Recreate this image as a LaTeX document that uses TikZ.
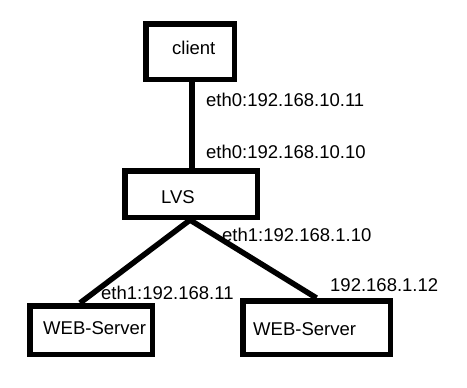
\documentclass[tikz,border=0pt]{standalone}
\usepackage{fontspec}
\setmainfont{Liberation Sans}
\usetikzlibrary{calc}
\begin{document}
\begin{tikzpicture}[x=1pt,y=-1pt,
  box/.style={draw=black,line width=5.5pt,rectangle,inner sep=0pt},
  wire/.style={draw=black,line width=5.5pt},
  lbl/.style={anchor=base west,inner sep=0pt,font=\fontsize{18.5}{20}\selectfont}]
\useasboundingbox[fill=white] (0,0) rectangle (467,388);
% boxes
\node[box,minimum width=88.5pt,minimum height=55.5pt] (client) at (190,51.5) {};
\node[box,minimum width=132.5pt,minimum height=46.5pt] (lvs) at (191,194) {};
\node[box,minimum width=122.5pt,minimum height=48.5pt] (ws1) at (91,330) {};
\node[box,minimum width=147.5pt,minimum height=53.5pt] (ws2) at (316.5,327.5) {};
% box texts
\node[lbl] (tclient) at (172,55) {client};
\node[lbl] (tlvs) at (161,203) {LVS};
\node[lbl] (tws1) at (43,334) {WEB-Server};
\node[lbl] (tws2) at (253,335) {WEB-Server};
% connectors
\coordinate (top) at ($(client.south)+(2,0)$);
\coordinate (lvsbot) at ($(lvs.south)+(-1,0)$);
\coordinate (ws1top) at ($(ws1.north)+(-11,0)$);
\draw[wire] (top) -- (top |- lvs.north);
\draw[wire] (lvsbot) -- (ws1top);
\draw[wire] (lvsbot) -- (ws2.north);
% labels
\node[lbl] (l1) at (206,106.5) {eth0:192.168.10.11};
\node[lbl] (l2) at (206,158.5) {eth0:192.168.10.10};
\node[lbl] (l3) at (222,241.5) {eth1:192.168.1.10};
\node[lbl] (l4) at (330,291.5) {192.168.1.12};
\node[lbl] (l5) at (101,299.5) {eth1:192.168.11};
\end{tikzpicture}
\end{document}
